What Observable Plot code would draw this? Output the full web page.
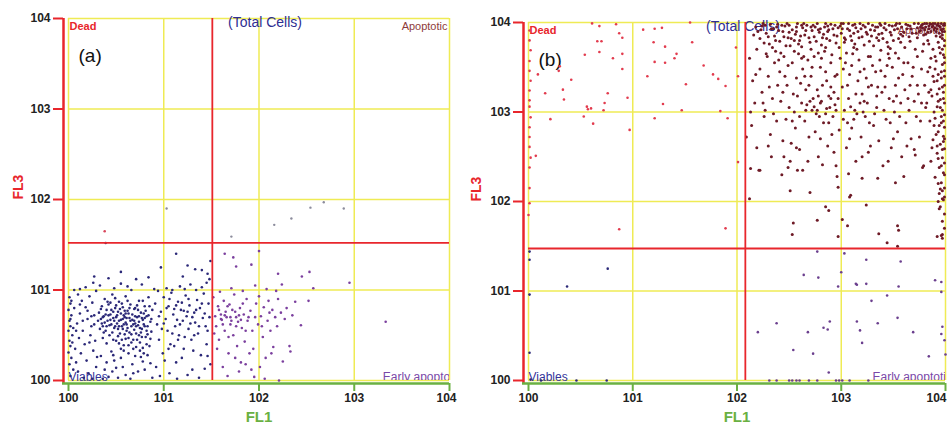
<!DOCTYPE html>
<html><head><meta charset="utf-8">
<script src="https://cdn.jsdelivr.net/npm/d3@7"></script>
<script src="https://cdn.jsdelivr.net/npm/@observablehq/plot@0.6"></script>
<style>
body{margin:0;background:#fff;}
#wrap{display:flex;width:951px;height:425px;overflow:hidden;}
</style></head><body><div id="wrap"></div>
<script>
// decade exponents: x = log10(FL1), y = log10(FL3)
const ticks = [0,1,2,3,4];
const tickLabels = ["100","101","102","103","104"];
const quadLabels = {dead:"Dead", total:"(Total Cells)", apo:"Apoptotic", viable:"Viables", early:"Early apoptotic"};
const gateA = [1.51, 1.52];
const gateB = [2.08, 1.475];

const aDead = [[0.38,1.65]];
const aOther = [[1.03,1.9],[2.54,1.91],[2.68,1.97],[2.89,1.9],[2.16,1.72],[2.34,1.79],[1.71,1.59]];
const aViable = [
[0.01,0.92],[0.02,0.85],[0.0,0.78],[0.03,0.72],[0.01,0.66],[0.02,0.6],[0.0,0.55],[0.04,0.5],[0.01,0.44],[0.02,0.38],[0.0,0.31],[0.03,0.25],[0.01,0.18],[0.05,0.12],[0.02,0.05],[0.06,0.8],[0.05,0.58],[0.07,0.35],
[0.1,0.95],[0.14,0.88],[0.12,0.74],[0.18,0.81],[0.22,0.93],[0.25,0.86],[0.09,0.63],[0.15,0.55],[0.2,0.68],[0.24,0.6],[0.27,0.72],[0.11,0.47],[0.17,0.4],[0.23,0.5],[0.28,0.44],[0.13,0.3],[0.19,0.22],[0.26,0.33],[0.29,0.15],[0.1,0.1],[0.16,0.03],[0.21,0.08],[0.25,0.02],[0.3,0.26],[0.08,0.2],[0.18,1.03],[0.26,1.08],[0.12,1.01],[0.29,0.99],[0.06,1.0],
[0.32,0.75],[0.34,0.68],[0.35,0.82],[0.36,0.6],[0.37,0.71],[0.38,0.9],[0.39,0.55],[0.4,0.78],[0.41,0.66],[0.42,0.84],[0.43,0.5],[0.44,0.73],[0.45,0.62],[0.46,0.95],[0.47,0.69],[0.48,0.58],[0.49,0.8],[0.5,0.44],[0.5,0.7],[0.51,0.63],[0.52,0.76],[0.53,0.87],[0.54,0.52],[0.55,0.67],[0.55,0.74],[0.56,0.6],[0.57,0.81],[0.58,0.39],[0.59,0.7],[0.6,0.64],[0.6,0.93],[0.61,0.55],[0.62,0.77],[0.63,0.47],[0.64,0.69],[0.65,0.84],[0.66,0.6],[0.67,0.73],[0.68,0.35],[0.69,0.66],[0.7,0.8],[0.71,0.52],[0.72,0.7],[0.73,0.61],[0.74,0.88],[0.75,0.42],[0.76,0.75],[0.77,0.57],[0.78,0.67],[0.79,0.3],[0.8,0.82],[0.81,0.48],[0.82,0.71],[0.83,0.6],[0.84,0.92],[0.85,0.38],[0.86,0.65],[0.87,0.54],[0.88,0.78],
[0.33,0.57],[0.36,0.47],[0.38,0.64],[0.4,0.41],[0.42,0.72],[0.44,0.86],[0.46,0.53],[0.48,0.66],[0.5,0.83],[0.52,0.57],[0.54,0.79],[0.56,0.45],[0.58,0.62],[0.6,0.74],[0.62,0.58],[0.64,0.8],[0.66,0.42],[0.68,0.62],[0.7,0.71],[0.72,0.45],[0.74,0.65],[0.76,0.53],[0.78,0.88],[0.8,0.6],[0.82,0.4],[0.84,0.72],[0.86,0.46],[0.57,0.68],[0.61,0.69],[0.53,0.66],[0.47,0.76],[0.65,0.66],[0.69,0.56],[0.43,0.61],[0.39,0.73],[0.35,0.63],[0.73,0.78],[0.77,0.69],[0.49,0.6],[0.59,0.51],
[0.31,0.66],[0.34,0.79],[0.37,0.53],[0.41,0.87],[0.44,0.67],[0.47,0.45],[0.51,0.72],[0.53,0.6],[0.56,0.85],[0.59,0.77],[0.61,0.62],[0.63,0.74],[0.64,0.53],[0.67,0.67],[0.69,0.79],[0.71,0.6],[0.74,0.71],[0.77,0.48],[0.79,0.62],[0.81,0.77],[0.83,0.51],[0.85,0.82],[0.87,0.68],[0.45,0.78],[0.52,0.49],[0.58,0.72],[0.62,0.88],[0.66,0.51],[0.7,0.63],[0.75,0.58],[0.79,0.74],[0.4,0.6],[0.36,0.7],[0.49,0.91],[0.57,0.57],[0.72,0.83],[0.8,0.69],[0.68,0.45],[0.63,0.39],[0.55,0.35],[0.47,0.28],[0.74,0.5],[0.78,0.36],[0.82,0.55],[0.6,0.46],[0.53,0.41],
[0.34,0.27],[0.4,0.2],[0.45,0.32],[0.5,0.14],[0.55,0.25],[0.6,0.06],[0.63,0.3],[0.67,0.18],[0.7,0.27],[0.73,0.1],[0.75,0.33],[0.78,0.21],[0.8,0.12],[0.83,0.28],[0.86,0.19],[0.42,0.04],[0.48,0.22],[0.52,0.03],[0.57,0.15],[0.65,0.02],[0.71,0.37],[0.76,0.26],[0.38,0.12],[0.58,0.33],[0.88,0.03],[0.36,0.02],[0.46,0.1],[0.68,0.08],
[0.33,1.05],[0.42,1.13],[0.48,1.02],[0.55,1.07],[0.62,1.04],[0.71,1.12],[0.66,1.0],[0.77,1.06],[0.84,1.14],[0.9,1.01],
[0.03,0.88],[0.02,0.68],[0.04,0.42],[0.12,0.84],[0.2,0.77],[0.27,0.62],[0.15,0.66],[0.22,0.42],[0.08,0.55],[0.24,0.71],
[0.91,0.85],[0.93,0.62],[0.95,0.45],[0.97,0.76],[0.99,0.3],[1.0,0.92],[1.02,0.68],[1.04,0.55],[1.05,0.82],[1.07,0.4],[1.08,0.97],[1.1,0.73],[1.12,0.6],[1.13,0.2],[1.15,0.87],[1.16,0.5],[1.18,0.78],[1.2,0.66],[1.21,0.35],[1.23,0.94],[1.24,0.71],[1.26,0.57],[1.27,0.83],[1.29,0.45],[1.3,0.12],[1.32,0.75],[1.33,0.64],[1.35,0.89],[1.36,0.52],[1.38,0.8],[1.39,0.28],[1.41,0.69],[1.42,0.96],[1.44,0.6],[1.45,0.4],[1.47,0.85],[1.48,0.7],[1.49,0.18],
[0.92,0.15],[0.96,0.05],[1.01,0.22],[1.06,0.08],[1.11,0.38],[1.14,0.02],[1.19,0.25],[1.25,0.06],[1.31,0.33],[1.37,0.03],[1.43,0.13],[1.46,0.27],[0.94,0.99],[1.03,1.02],[1.09,1.0],[1.17,1.04],[1.22,1.01],[1.28,1.06],[1.34,1.0],[1.4,1.03],[1.45,1.08],[1.48,1.12],
[1.11,0.79],[1.19,0.86],[1.25,0.76],[1.03,0.8],[0.98,0.57],[1.14,0.67],[1.3,0.7],[1.37,0.6],[1.22,0.48],
[0.95,0.71],[1.0,0.63],[1.06,0.9],[1.09,0.52],[1.13,0.83],[1.17,0.62],[1.21,0.77],[1.26,0.9],[1.28,0.63],[1.34,0.78],[1.4,0.85],[1.43,0.74],[1.46,0.55],[1.15,0.45],[1.05,0.35],[1.32,0.5],
[0.39,1.52],[1.13,1.4],[1.25,1.27],[1.33,1.23],[1.2,1.15],[0.97,1.25],[1.46,1.18],[1.49,1.32],[0.55,1.2],[0.27,1.15],[1.4,1.22]
];
const aEarly = [
[1.52,0.92],[1.54,0.71],[1.55,0.6],[1.57,0.82],[1.58,0.45],[1.6,0.73],[1.61,0.67],[1.63,0.88],[1.64,0.55],[1.65,0.76],[1.66,0.7],[1.68,0.3],[1.69,0.84],[1.7,0.62],[1.72,0.78],[1.73,0.5],[1.74,0.95],[1.76,0.7],[1.77,0.38],[1.78,0.65],[1.8,0.8],[1.81,0.2],[1.82,0.58],[1.84,0.73],[1.85,0.43],[1.87,0.9],[1.88,0.66],[1.9,0.3],[1.91,0.77],[1.92,0.12],[1.93,0.55],[1.95,0.04],[1.97,0.85],[1.99,0.62],[2.0,0.93],[2.02,0.71],[2.04,0.48],[2.05,0.81],[2.07,0.25],[2.09,0.66],[2.1,0.88],[2.12,0.55],[2.14,0.78],[2.15,0.37],[2.17,0.7],[2.19,0.6],[2.2,0.9],[2.21,0.0],[2.23,0.75],[2.25,0.21],[2.27,0.68],[2.29,0.8],[2.32,0.38],[2.33,0.32],[2.35,0.72],[2.38,0.87],[2.44,0.61],[2.52,0.88],
[1.56,0.35],[1.62,0.15],[1.67,0.05],[1.75,0.25],[1.79,0.1],[1.86,0.18],[1.94,0.35],[2.01,0.15],[2.06,0.02],[2.13,0.3],[1.59,0.98],[1.71,1.02],[1.83,0.99],[1.96,1.05],[2.08,1.01],[2.18,0.99],[2.24,1.06],[1.6,0.68],[1.64,0.72],[1.7,0.7],[1.76,0.6],[1.81,0.67],
[1.58,0.78],[1.62,0.62],[1.67,0.82],[1.71,0.66],[1.75,0.76],[1.79,0.72],[1.83,0.85],[1.89,0.7],[1.53,0.52],[1.96,0.7],[2.03,0.6],[2.11,0.75],[1.68,0.48],[1.86,0.55],
[1.64,1.4],[1.73,1.36],[1.76,1.26],[1.92,1.28],[2.0,1.43],[2.2,1.18],[2.45,1.15],[2.53,1.2],[2.57,1.02],[2.95,1.08],[3.33,0.65]
];

const bDead = [
[0.61,3.99],[0.84,3.98],[0.68,3.96],[0.87,3.88],[0.9,3.83],[1.1,3.92],[1.21,3.93],[1.28,3.94],[1.55,4.0],[0.66,3.79],[0.7,3.79],[1.2,3.78],[1.31,3.73],[1.57,3.78],[1.99,3.72],[0.68,3.67],[0.54,3.64],[0.9,3.65],[1.42,3.65],[0.81,3.6],[1.4,3.6],[1.21,3.56],[1.31,3.55],[0.3,3.51],[1.68,3.52],[0.9,3.48],[0.29,3.46],[0.09,3.42],[1.14,3.4],[1.77,3.42],[0.41,3.36],[1.82,3.37],[2.01,3.4],[1.51,3.31],[1.89,3.29],[0.33,3.25],[0.16,3.21],[0.34,3.14],[0.76,3.21],[0.95,3.16],[0.73,3.1],[0.56,3.06],[0.6,3.04],[0.57,3.03],[0.72,3.02],[1.29,3.09],[1.47,3.02],[1.84,3.01],[0.21,2.92],[0.53,2.95],[1.21,2.93],[1.91,2.93],[0.62,2.87],[0.97,2.8],[2.01,2.44],[0.07,2.51],[0.87,1.69],[1.89,1.7],
[0.01,3.91],[0.01,3.8],[0.02,3.69],[0.01,3.57],[0.01,3.46],[0.02,3.35],[0.01,3.24],[0.01,3.13],[0.01,3.06],[0.02,2.94],[0.01,2.83],[0.01,2.72],[0.01,2.61],[0.02,2.49],[0.01,2.38],[0.01,2.15],[0.01,1.98],[0.0,1.85]
];
const bApoptotic = [
[2.18,3.95],[2.22,3.82],[2.25,3.99],[2.28,3.88],[2.31,3.76],[2.33,3.93],[2.36,3.85],[2.39,3.98],[2.41,3.79],[2.44,3.9],[2.46,3.96],[2.49,3.83],[2.51,3.74],[2.53,3.92],[2.56,3.87],[2.58,3.99],[2.6,3.8],[2.63,3.94],[2.65,3.86],[2.67,3.97],[2.7,3.78],[2.72,3.91],[2.74,3.84],[2.77,3.99],[2.79,3.89],[2.81,3.75],[2.84,3.95],[2.86,3.82],[2.88,3.92],[2.9,3.98],[2.93,3.86],[2.95,3.77],[2.97,3.94],[3.0,3.88],[3.02,3.99],[3.04,3.81],[3.06,3.93],[3.09,3.85],[3.11,3.97],[3.13,3.76],[3.16,3.9],[3.18,3.99],[3.2,3.84],[3.23,3.95],[3.25,3.87],[3.27,3.79],[3.3,3.97],[3.32,3.91],[3.34,3.83],[3.37,3.99],[3.39,3.88],[3.41,3.94],[3.44,3.78],[3.46,3.97],[3.48,3.86],[3.51,3.92],[3.53,3.99],[3.55,3.82],[3.58,3.95],[3.6,3.89],[3.62,3.98],[3.65,3.84],[3.67,3.93],[3.7,3.99],[3.72,3.88],
[2.2,3.9],[2.27,3.97],[2.35,3.93],[2.43,3.97],[2.5,3.89],[2.57,3.95],[2.64,3.99],[2.71,3.95],[2.78,3.92],[2.85,3.99],[2.92,3.93],[2.99,3.96],[3.07,3.99],[3.14,3.94],[3.21,3.97],[3.28,3.92],[3.35,3.95],[3.42,3.99],[3.49,3.96],[3.56,3.99],[3.63,3.93],[2.3,3.84],[2.55,3.8],[2.83,3.87],[3.03,3.83],[3.36,3.8],[3.57,3.87],[2.62,3.73],[3.12,3.72],[3.47,3.71],
[2.16,3.86],[2.19,3.7],[2.23,3.92],[2.26,3.77],[2.29,3.62],[2.32,3.98],[2.34,3.72],[2.37,3.8],[2.4,3.91],[2.42,3.66],[2.45,3.84],[2.47,3.74],[2.5,3.97],[2.52,3.82],[2.55,3.68],[2.57,3.9],[2.59,3.76],[2.61,3.85],[2.64,3.62],[2.66,3.91],[2.69,3.83],[2.71,3.7],[2.73,3.97],[2.76,3.79],[2.78,3.66],[2.8,3.93],[2.82,3.83],[2.85,3.72],[2.87,3.9],[2.89,3.8],[2.91,3.64],[2.94,3.97],[2.96,3.85],[2.98,3.72],[3.01,3.93],[3.03,3.78],[3.05,3.66],[3.08,3.91],[3.1,3.8],[3.12,3.88],[3.15,3.7],[3.17,3.83],[3.19,3.93],[3.22,3.75],[3.24,3.89],[3.26,3.62],[3.29,3.85],[3.31,3.74],[3.33,3.95],[3.36,3.87],[3.38,3.69],[3.4,3.82],[3.43,3.92],[3.45,3.73],[3.47,3.89],[3.5,3.8],[3.52,3.66],[3.54,3.93],[3.57,3.78],[3.59,3.85],[3.61,3.72],[3.64,3.97],[3.66,3.79],[3.68,3.88],[3.71,3.7],[3.73,3.83],[3.76,3.91],[3.79,3.76],[3.81,3.87],[3.83,3.8],
[2.24,3.96],[2.38,3.95],[2.48,3.99],[2.62,3.97],[2.75,3.95],[2.87,3.96],[3.0,3.99],[3.13,3.98],[3.26,3.99],[3.38,3.97],[3.52,3.97],[3.66,3.96],[3.78,3.94],[3.86,3.98],[3.94,3.96],[3.97,3.9],[3.92,3.93],[3.95,3.84],[3.99,3.8],[3.91,3.85],
[3.74,3.99],[3.76,3.95],[3.78,3.98],[3.8,3.92],[3.82,3.99],[3.84,3.96],[3.86,3.9],[3.88,3.99],[3.9,3.94],[3.92,3.97],[3.94,3.88],[3.96,3.99],[3.98,3.93],[3.99,3.97],[3.75,3.9],[3.79,3.86],[3.83,3.89],[3.87,3.95],[3.91,3.9],[3.95,3.95],[3.97,3.86],[3.77,3.97],[3.81,3.95],[3.85,3.99],[3.89,3.92],[3.93,3.99],[3.99,3.9],[3.73,3.94],[3.8,3.99],[3.88,3.96],[3.96,3.92],[3.99,3.99],[3.9,3.99],[3.84,3.93],[3.98,3.97],
[3.97,3.82],[3.93,3.78],[3.99,3.74],[3.88,3.7],[3.95,3.66],[3.99,3.61],[3.91,3.57],[3.97,3.53],[3.85,3.5],[3.99,3.46],[3.93,3.42],[3.96,3.38],[3.89,3.34],[3.99,3.3],[3.94,3.26],[3.98,3.22],[3.87,3.18],[3.95,3.14],[3.99,3.1],[3.92,3.06],[3.97,3.02],[3.99,2.97],[3.9,2.93],[3.96,2.88],[3.99,2.83],[3.93,2.78],[3.98,2.73],[3.88,2.69],[3.95,2.64],[3.99,2.59],[3.92,2.54],[3.97,2.49],[3.99,2.43],[3.94,2.38],[3.98,2.32],[3.9,2.27],[3.96,2.21],[3.99,2.15],[3.94,2.09],[3.98,2.02],[3.95,1.94],[3.99,1.86],[3.97,1.78],[3.99,1.7],[3.96,1.62],
[3.84,3.76],[3.86,3.6],[3.83,3.45],[3.9,3.48],[3.86,3.25],[3.92,3.2],[3.82,3.1],[3.89,3.0],[3.95,3.05],[3.85,2.9],[3.91,2.75],[3.87,2.6],[3.93,2.48],[3.86,2.45],[3.98,2.67],[3.99,3.4],[3.97,3.7],[3.99,3.55],[3.98,3.15],[3.96,2.95],[3.99,2.7],[3.99,2.3],[3.99,2.05],
[3.94,3.72],[3.98,3.64],[3.9,3.62],[3.96,3.45],[3.92,3.35],[3.97,3.28],[3.93,3.12],[3.98,2.9],[3.94,2.85],[3.97,2.58],[3.92,2.62],[3.96,2.4],[3.93,2.2],[3.97,2.12],[3.88,3.4],[3.84,3.22],[3.89,2.85],
[2.12,3.6],[2.15,3.35],[2.17,3.1],[2.14,2.85],[2.19,2.6],[2.22,3.48],[2.24,3.22],[2.26,2.95],[2.28,3.65],[2.3,3.4],[2.32,2.75],[2.34,3.15],[2.36,3.55],[2.38,2.9],[2.39,3.3],[2.21,2.35],[2.27,3.02],[2.33,2.5],[2.13,3.0],[2.37,3.68],
[2.41,3.45],[2.42,3.12],[2.44,2.68],[2.45,3.62],[2.47,2.92],[2.48,3.3],[2.5,3.05],[2.51,2.45],[2.53,3.55],[2.54,3.2],[2.56,2.82],[2.57,3.38],[2.59,3.65],[2.6,2.58],[2.62,3.1],[2.63,3.48],[2.65,2.9],[2.66,3.25],[2.68,3.58],[2.69,2.72],[2.46,3.4],[2.55,3.0],[2.61,3.32],[2.67,3.08],[2.43,2.3],[2.58,2.35],[2.52,2.65],
[2.71,3.4],[2.72,3.02],[2.74,3.62],[2.75,2.78],[2.77,3.25],[2.78,2.5],[2.8,3.5],[2.81,3.12],[2.83,2.88],[2.84,3.68],[2.86,3.35],[2.87,2.62],[2.89,3.05],[2.9,3.55],[2.92,2.95],[2.93,3.22],[2.95,2.4],[2.96,3.42],[2.98,2.8],[2.99,3.6],[2.73,3.15],[2.79,2.95],[2.82,3.3],[2.88,3.18],[2.94,3.08],[2.76,2.98],[2.85,2.98],[2.91,2.75],
[2.7,3.12],[2.74,3.06],[2.8,3.1],[2.86,3.04],[2.9,3.15],[2.95,3.02],[2.66,3.02],[2.78,3.18],
[3.01,3.28],[3.02,2.92],[3.04,3.55],[3.05,2.6],[3.07,3.15],[3.08,3.42],[3.1,2.82],[3.11,3.65],[3.13,3.02],[3.14,2.45],[3.16,3.35],[3.17,3.58],[3.19,2.72],[3.2,3.2],[3.22,3.48],[3.23,2.95],[3.25,3.1],[3.26,2.55],[3.28,3.62],[3.29,3.3],[3.03,3.02],[3.09,3.06],[3.15,2.98],[3.21,3.0],[3.27,2.88],[3.06,2.88],[3.18,3.1],[3.24,3.38],
[3.31,2.85],[3.33,3.45],[3.34,3.05],[3.36,2.68],[3.37,3.58],[3.39,3.22],[3.4,2.4],[3.42,3.4],[3.43,2.92],[3.45,3.65],[3.46,3.15],[3.48,2.6],[3.49,3.5],[3.51,3.0],[3.52,3.3],[3.54,2.78],[3.55,3.6],[3.57,3.1],[3.58,2.5],[3.59,3.42],[3.35,3.28],[3.41,3.02],[3.47,2.88],[3.53,3.18],[3.44,3.52],
[3.61,3.25],[3.62,2.88],[3.64,3.55],[3.65,3.02],[3.67,2.7],[3.68,3.4],[3.7,3.12],[3.71,2.52],[3.73,3.62],[3.74,3.2],[3.76,2.9],[3.77,3.48],[3.79,2.4],[3.8,3.3],[3.81,3.05],[3.66,3.3],[3.72,2.95],[3.78,3.68],[3.63,2.62],
[2.18,3.42],[2.25,3.1],[2.31,3.28],[2.35,2.98],[2.4,3.58],[2.44,3.22],[2.49,3.52],[2.53,2.9],[2.58,3.18],[2.62,3.6],[2.65,3.4],[2.69,3.3],[2.72,3.5],[2.77,3.02],[2.81,3.6],[2.85,3.45],[2.9,3.28],[2.94,3.4],[2.97,3.15],[3.02,3.48],[3.06,3.3],[3.1,3.52],[3.14,3.2],[3.18,3.45],[3.22,3.12],[3.26,3.28],[3.3,3.52],[3.34,3.18],[3.38,3.46],[3.42,3.28],[3.46,3.6],[3.5,3.12],[3.55,3.38],[3.6,3.55],[3.64,3.15],[3.69,3.5],[3.73,3.3],[3.77,3.1],[2.6,2.95],[2.88,2.88],[3.12,2.92],[3.32,2.98],[3.56,2.95],[3.75,2.72],[2.3,2.62],[2.57,2.6],[2.8,2.7],[3.08,2.7],[3.28,2.62],[3.5,2.7],[2.45,2.5],[2.68,2.45],[2.93,2.55],[3.2,2.5],[3.45,2.45],[3.7,2.58],
[2.22,2.35],[2.51,2.12],[2.7,2.1],[2.49,2.38],[2.63,2.35],[2.82,2.41],[2.96,2.28],[2.97,2.16],[3.07,2.31],[3.2,2.26],[3.35,2.26],[3.52,2.21],[3.6,2.28],[3.78,2.38],[3.95,2.14],[3.09,2.07],[2.13,2.37],[2.12,2.03],[2.09,2.72],
[2.85,1.94],[2.88,1.9],[2.54,1.76],[2.77,1.79],[3.01,1.8],[3.06,1.73],[3.24,1.96],[2.53,1.63],[2.97,1.61],[3.36,1.64],[3.54,1.73],[3.55,1.68],[3.44,1.54],[3.94,1.92],[3.97,2.03],[3.92,1.61],[3.97,1.63],[3.97,1.59],[3.93,2.0],[3.08,2.05],[3.54,1.5]
];
const bEarly = [
[2.77,1.44],[3.03,1.42],[3.24,1.35],[3.57,1.33],[2.64,1.18],[2.78,1.15],[3.0,1.21],[3.14,1.08],[3.15,1.07],[3.24,1.08],[2.97,1.05],[3.55,1.05],[3.9,1.12],[3.96,1.1],[3.96,0.99],[3.29,0.89],[3.44,0.95],[2.89,0.66],[3.15,0.66],[3.35,0.64],[3.54,0.7],[2.38,0.64],[2.2,0.54],[2.68,0.54],[2.83,0.59],[2.87,0.57],[3.18,0.56],[3.69,0.54],[3.97,0.6],[3.96,0.52],[3.99,0.45],[3.2,0.42],[2.54,0.34],[2.73,0.3],[3.84,0.27],[4.0,0.29],[2.88,0.09],
[2.31,0.0],[2.38,0.0],[2.5,0.0],[2.53,0.0],[2.57,0.0],[2.6,0.0],[2.69,0.0],[2.77,0.0],[2.95,0.0],[2.98,0.0],[3.01,0.0],[3.08,0.0],[3.26,0.0]
];
const bViable = [[0.37,1.05],[0.76,1.25],[0.46,0.0],[0.75,0.0],[0.01,1.44],[0.01,1.35],[0.01,0.96],[0.01,0.31],[0.02,0.01],[0.12,0.0]];

const RED = "#e8262c", YEL = "#efeb55", GRN = "#6ab042";

function panel({width, ml, mr, mt, tag, gate, groups, totalDx, lastDx}) {
  const H = 425;
  const dots = groups.map(([data, color, r]) =>
    Plot.dot(data, {x: d => d[0], y: d => d[1], r, fill: color}));
  return Plot.plot({
    width, height: H,
    marginLeft: ml, marginRight: mr, marginTop: mt, marginBottom: 45,
    style: {fontFamily: "'Liberation Sans', Arial, sans-serif", background: "white", overflow: "visible"},
    x: {domain: [0, 4], axis: null},
    y: {domain: [0, 4], axis: null},
    marks: [
      Plot.ruleX(ticks, {stroke: YEL, strokeWidth: 1.5}),
      Plot.ruleY(ticks, {stroke: YEL, strokeWidth: 1.5}),
      Plot.text([quadLabels.dead], {text: d => d, frameAnchor: "top-left", dx: 1, dy: 4, fill: RED, fontWeight: "bold", fontSize: 11}),
      Plot.text([quadLabels.total], {text: d => d, frameAnchor: "top", dx: totalDx, dy: -1, fill: "#2e2e92", fontSize: 14}),
      Plot.text([quadLabels.apo], {text: d => d, frameAnchor: "top-right", dx: -2, dy: 4, fill: "#8e3b3b", fontSize: 11}),
      Plot.text([quadLabels.viable], {text: d => d, frameAnchor: "bottom-left", dx: 0, dy: 0, fill: "#34349a", fontSize: 12}),
      Plot.text([quadLabels.early], {text: d => d, x: 3.3, y: 0, textAnchor: "start", lineAnchor: "bottom", fill: "#7a48a8", fontSize: 12, clip: true}),
      Plot.text([tag], {text: d => d, frameAnchor: "top-left", dx: 10, dy: 30, fill: "#111", fontSize: 19, fontFamily: "Arial, 'Liberation Sans', sans-serif"}),
      ...dots,
      Plot.ruleX([gate[0]], {stroke: RED, strokeWidth: 1.8}),
      Plot.ruleY([gate[1]], {stroke: RED, strokeWidth: 1.8}),
      Plot.ruleX([0], {dx: -5, stroke: RED, strokeWidth: 2.5, insetBottom: -4}),
      Plot.ruleY([0], {dy: 3, stroke: GRN, strokeWidth: 2.5, insetLeft: -6}),
      Plot.axisY(ticks, {tickFormat: d => tickLabels[d], tickSize: 10, tickPadding: 3, dx: -5, stroke: RED, strokeWidth: 2, fill: "#222", fontWeight: "bold", fontSize: 12, label: null}),
      Plot.axisX(ticks, {tickFormat: () => "", tickSize: 8, dy: 3, stroke: GRN, strokeWidth: 2, label: null}),
      Plot.axisX(ticks.slice(0, 4), {tickFormat: d => tickLabels[d], tickSize: 0, tickPadding: 13, dy: 0, fill: "#222", fontWeight: "bold", fontSize: 12, label: null}),
      Plot.axisX([4], {tickFormat: d => tickLabels[d], tickSize: 0, tickPadding: 13, dx: lastDx, fill: "#222", fontWeight: "bold", fontSize: 12, label: null}),
      Plot.text(["FL1"], {text: d => d, frameAnchor: "bottom", dy: 41, lineAnchor: "bottom", fill: GRN, fontWeight: "bold", fontSize: 15}),
      Plot.text(["FL3"], {text: d => d, frameAnchor: "left", dx: ml < 60 ? -52 : -50, rotate: -90, fill: RED, fontWeight: "bold", fontSize: 14})
    ]
  });
}

const wrap = document.getElementById("wrap");
wrap.append(panel({width: 470, ml: 68, mr: 21, mt: 18, tag: "(a)", gate: gateA, totalDx: 6, lastDx: -3,
  groups: [[aViable, "#2b2878", 1.3], [aEarly, "#7b3f9e", 1.3], [aOther, "#8c8c9c", 1.2], [aDead, "#d9475c", 1.3]]}));
wrap.append(panel({width: 481, ml: 58, mr: 6, mt: 22, tag: "(b)", gate: gateB, totalDx: 6, lastDx: -9,
  groups: [[bDead, "#e23b4e", 1.3], [bApoptotic, "#6e1a26", 1.5], [bEarly, "#6b3f8e", 1.3], [bViable, "#2b2878", 1.3]]}));
</script></body></html>
